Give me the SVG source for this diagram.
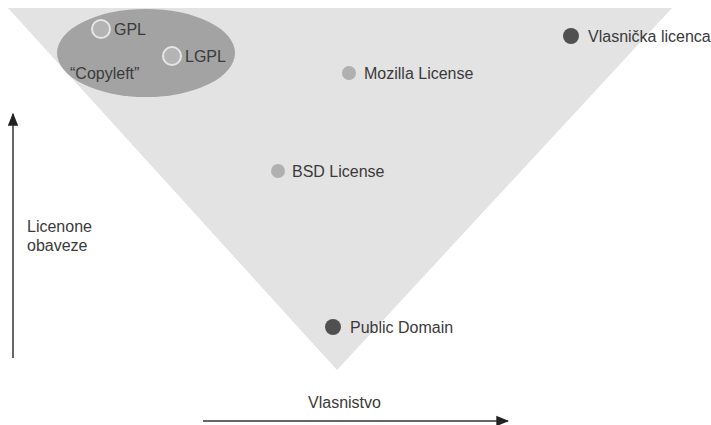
<svg xmlns="http://www.w3.org/2000/svg" width="711" height="425" viewBox="0 0 711 425">
<defs>
<style>
text{font-family:"Liberation Sans",Arial,sans-serif;font-size:16px;fill:#3a3a3a}
.lt{fill:#b4b4b4;stroke:#e6e6e6;stroke-width:2}
.dk{fill:#505050}
.md{fill:#b0b0b0}
.ax{stroke:#333;stroke-width:1.5;fill:none}
</style>
<marker id="ah2" viewBox="0 0 10 10" refX="9" refY="5" markerWidth="13" markerHeight="13" markerUnits="userSpaceOnUse" orient="auto"><path d="M0,1 L10,5 L0,9 z" fill="#222"/></marker>
</defs>
<rect width="711" height="425" fill="#fff"/>
<g id="triangle"><polygon points="8,8 672,8 337,370" fill="#e3e3e3"/></g>
<g id="copyleft"><ellipse cx="146" cy="53" rx="89" ry="44" fill="#a3a3a3"/><text x="70" y="79">“Copyleft”</text></g>
<g id="gpl"><circle class="lt" cx="101" cy="29" r="9"/><text x="114" y="35">GPL</text></g>
<g id="lgpl"><circle class="lt" cx="172" cy="56" r="9"/><text x="185" y="62">LGPL</text></g>
<g id="vlasnicka"><circle class="dk" cx="571" cy="36" r="8"/><text x="588" y="42">Vlasnička licenca</text></g>
<g id="mozilla"><circle class="md" cx="349" cy="73" r="7"/><text x="364" y="79">Mozilla License</text></g>
<g id="bsd"><circle class="md" cx="278" cy="171" r="7"/><text x="292" y="177">BSD License</text></g>
<g id="public"><circle class="dk" cx="333" cy="327" r="8"/><text x="350" y="333">Public Domain</text></g>
<g id="connectors">
<line class="ax" x1="13" y1="358" x2="13" y2="114" marker-end="url(#ah2)"/>
<line class="ax" x1="203" y1="421" x2="508" y2="421" marker-end="url(#ah2)"/>
</g>
<g id="labels">
<text x="27" y="232">Licenone</text>
<text x="27" y="251">obaveze</text>
<text x="308" y="408">Vlasnistvo</text>
</g>
</svg>
